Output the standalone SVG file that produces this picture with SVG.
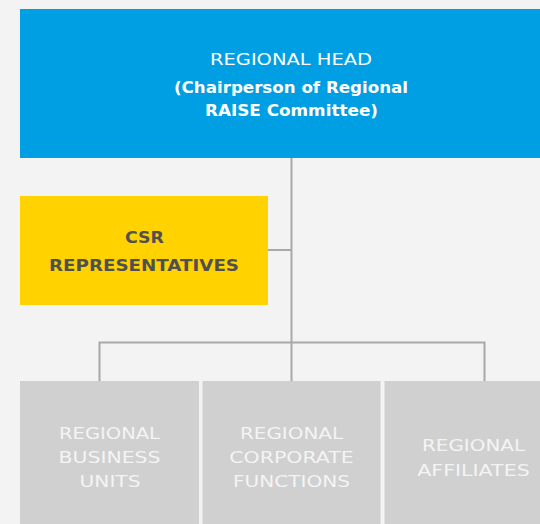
<svg xmlns="http://www.w3.org/2000/svg" width="540" height="524" viewBox="0 0 540 524">
<style>
text{font-family:"DejaVu Sans","Open Sans","Liberation Sans",sans-serif;text-anchor:middle}
.h1{font-size:16px;font-weight:400;fill:#FFFFFF}
.h2{font-size:16px;font-weight:700;fill:#FFFFFF}
.y{font-size:16.5px;font-weight:700;fill:#505050}
.g{font-size:16.5px;font-weight:400;fill:#F4F4F4}
.ln{stroke:#A8A8A8;stroke-width:2;fill:none}
</style>
<rect x="0" y="0" width="540" height="524" fill="#F3F3F3"/>
<g id="connectors">
<path class="ln" d="M291.5 158 V342.5"/>
<path class="ln" d="M268 250 H291.5"/>
<path class="ln" d="M99.5 381 V342.5 H484.5 V381"/>
<path class="ln" d="M291.5 342.5 V381"/>
</g>
<g id="regional-head">
<rect x="20" y="9" width="520" height="149" fill="#009FE3"/>
<text class="h1" x="291" y="65" textLength="162" lengthAdjust="spacingAndGlyphs">REGIONAL HEAD</text>
<text class="h2" x="291" y="92.5" textLength="234" lengthAdjust="spacingAndGlyphs">(Chairperson of Regional</text>
<text class="h2" x="291.5" y="115.5" textLength="173" lengthAdjust="spacingAndGlyphs">RAISE Committee)</text>
</g>
<g id="csr">
<rect x="20" y="196" width="248" height="109" fill="#FFD200"/>
<text class="y" x="144.5" y="243" textLength="39" lengthAdjust="spacingAndGlyphs">CSR</text>
<text class="y" x="144" y="271" textLength="190" lengthAdjust="spacingAndGlyphs">REPRESENTATIVES</text>
</g>
<g id="business-units">
<rect x="20" y="381" width="179" height="143" fill="#D0D0D0"/>
<text class="g" x="109.5" y="439" textLength="101" lengthAdjust="spacingAndGlyphs">REGIONAL</text>
<text class="g" x="109.5" y="463" textLength="102" lengthAdjust="spacingAndGlyphs">BUSINESS</text>
<text class="g" x="110" y="487" textLength="61" lengthAdjust="spacingAndGlyphs">UNITS</text>
</g>
<g id="corporate-functions">
<rect x="202.5" y="381" width="178" height="143" fill="#D0D0D0"/>
<text class="g" x="291.5" y="439" textLength="103" lengthAdjust="spacingAndGlyphs">REGIONAL</text>
<text class="g" x="291.5" y="463" textLength="124.5" lengthAdjust="spacingAndGlyphs">CORPORATE</text>
<text class="g" x="291.5" y="487" textLength="117" lengthAdjust="spacingAndGlyphs">FUNCTIONS</text>
</g>
<g id="affiliates">
<rect x="384.5" y="381" width="155.5" height="143" fill="#D0D0D0"/>
<text class="g" x="473.5" y="451" textLength="103" lengthAdjust="spacingAndGlyphs">REGIONAL</text>
<text class="g" x="473.5" y="475.5" textLength="112.5" lengthAdjust="spacingAndGlyphs">AFFILIATES</text>
</g>
</svg>
